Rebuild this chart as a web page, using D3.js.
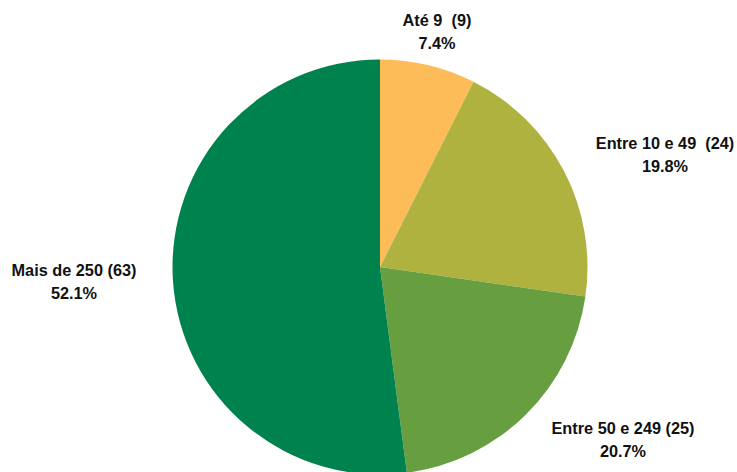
<!DOCTYPE html>
<html>
<head>
<meta charset="utf-8">
<script src="https://cdn.jsdelivr.net/npm/d3@7"></script>
<style>
  html, body { margin: 0; padding: 0; background: #fff; }
  svg { display: block; }
  text { font-family: "Liberation Sans", Arial, sans-serif; font-weight: bold; font-size: 16.3px; fill: #111; white-space: pre; }
</style>
</head>
<body>
<svg id="chart" width="737" height="472"></svg>
<script>
// Companies by number of employees
const categories = ["Até 9  (9)", "Entre 10 e 49  (24)", "Entre 50 e 249 (25)", "Mais de 250 (63)"];
const counts = [9, 24, 25, 63];
const colors = ["#FEBC59", "#B0B240", "#679F40", "#00824E"];
// Label anchor points (centre x, first baseline y)
const labelX = [437, 665, 623, 74];
const labelY = [26, 149, 434, 276];

const width = 737, height = 472;
const cx = 380, cy = 267, radius = 207.5;

const svg = d3.select("#chart");
const total = d3.sum(counts);
const data = categories.map((c, i) => ({ name: c, value: counts[i], color: colors[i], lx: labelX[i], ly: labelY[i] }));

const pie = d3.pie().sort(null).value(d => d.value);
const arc = d3.arc().innerRadius(0).outerRadius(radius);

const g = svg.append("g").attr("transform", `translate(${cx},${cy})`);
g.selectAll("path")
  .data(pie(data))
  .join("path")
  .attr("d", arc)
  .attr("fill", d => d.data.color);

const fmt = d3.format(".1%");
const labels = svg.selectAll("g.label")
  .data(data)
  .join("g")
  .attr("class", "label");

labels.append("text")
  .attr("x", d => d.lx)
  .attr("y", d => d.ly)
  .attr("text-anchor", "middle")
  .attr("xml:space", "preserve")
  .text(d => d.name);

labels.append("text")
  .attr("x", d => d.lx)
  .attr("y", d => d.ly + 23)
  .attr("text-anchor", "middle")
  .text(d => fmt(d.value / total));
</script>
</body>
</html>
